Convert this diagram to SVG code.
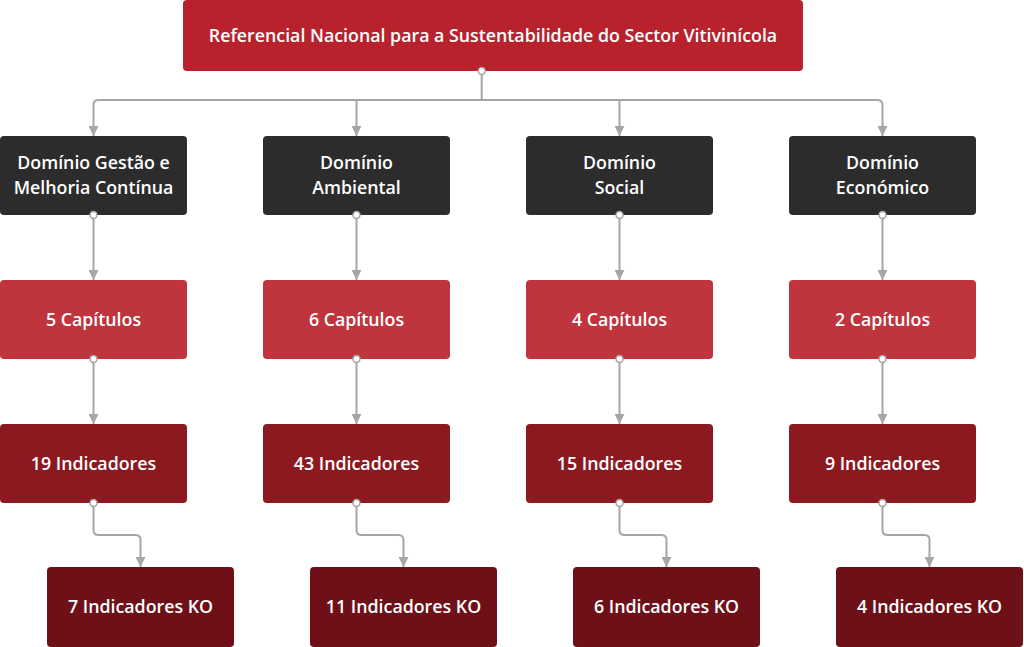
<svg xmlns="http://www.w3.org/2000/svg" width="1024" height="647" viewBox="0 0 1024 647">
<defs>
<marker id="arr" viewBox="0 0 10 10" refX="10" refY="5" markerWidth="10" markerHeight="10" markerUnits="userSpaceOnUse" orient="auto">
<path d="M0,0 L10,5 L0,10 Z" fill="#A6A6A6"/>
</marker>
<style>
.c{fill:none;stroke:#A6A6A6;stroke-width:2;marker-end:url(#arr)}
.o{fill:#fff;stroke:#A6A6A6;stroke-width:1.5}
.t{font-family:"Open Sans","Noto Sans",sans-serif;font-weight:600;font-size:17.8px;fill:#fff;text-anchor:middle;dominant-baseline:central}
.top{fill:#B9222C}
.d{fill:#2C2C2C}
.r2{fill:#C0343D}
.r3{fill:#8C1820}
.r4{fill:#6E1017}
</style>
</defs>
<g id="connectors">
<path class="c" d="M481.7,71 V100 H98 Q93.5,100 93.5,105 V136"/>
<path class="c" d="M356.5,100 V136"/>
<path class="c" d="M619.5,100 V136"/>
<path class="c" d="M481.7,100 H877.5 Q882.5,100 882.5,105 V136"/>
<path class="c" d="M93.5,215 V280"/>
<path class="c" d="M356.5,215 V280"/>
<path class="c" d="M619.5,215 V280"/>
<path class="c" d="M882.5,215 V280"/>
<path class="c" d="M93.5,359 V424"/>
<path class="c" d="M356.5,359 V424"/>
<path class="c" d="M619.5,359 V424"/>
<path class="c" d="M882.5,359 V424"/>
<path class="c" d="M93.5,503 V530 Q93.5,535 98.5,535 H135.5 Q140.5,535 140.5,540 V567"/>
<path class="c" d="M356.5,503 V530 Q356.5,535 361.5,535 H398.5 Q403.5,535 403.5,540 V567"/>
<path class="c" d="M619.5,503 V530 Q619.5,535 624.5,535 H661.5 Q666.5,535 666.5,540 V567"/>
<path class="c" d="M882.5,503 V530 Q882.5,535 887.5,535 H924.5 Q929.5,535 929.5,540 V567"/>
</g>
<g id="root"><rect class="top" x="183" y="0" width="620" height="71" rx="4"/><text class="t" x="493" y="34.5">Referencial Nacional para a Sustentabilidade do Sector Vitivinícola</text></g>
<g id="d1"><rect class="d" x="0" y="136" width="187" height="79" rx="4"/><text class="t" x="93.5" y="162">Domínio Gestão e</text><text class="t" x="93.5" y="186.5">Melhoria Contínua</text></g>
<g id="d2"><rect class="d" x="263" y="136" width="187" height="79" rx="4"/><text class="t" x="356.5" y="162">Domínio</text><text class="t" x="356.5" y="186.5">Ambiental</text></g>
<g id="d3"><rect class="d" x="526" y="136" width="187" height="79" rx="4"/><text class="t" x="619.5" y="162">Domínio</text><text class="t" x="619.5" y="186.5">Social</text></g>
<g id="d4"><rect class="d" x="789" y="136" width="187" height="79" rx="4"/><text class="t" x="882.5" y="162">Domínio</text><text class="t" x="882.5" y="186.5">Económico</text></g>
<g id="c1"><rect class="r2" x="0" y="280" width="187" height="79" rx="4"/><text class="t" x="93.5" y="318.5">5 Capítulos</text></g>
<g id="c2"><rect class="r2" x="263" y="280" width="187" height="79" rx="4"/><text class="t" x="356.5" y="318.5">6 Capítulos</text></g>
<g id="c3"><rect class="r2" x="526" y="280" width="187" height="79" rx="4"/><text class="t" x="619.5" y="318.5">4 Capítulos</text></g>
<g id="c4"><rect class="r2" x="789" y="280" width="187" height="79" rx="4"/><text class="t" x="882.5" y="318.5">2 Capítulos</text></g>
<g id="i1"><rect class="r3" x="0" y="424" width="187" height="79" rx="4"/><text class="t" x="93.5" y="462.5">19 Indicadores</text></g>
<g id="i2"><rect class="r3" x="263" y="424" width="187" height="79" rx="4"/><text class="t" x="356.5" y="462.5">43 Indicadores</text></g>
<g id="i3"><rect class="r3" x="526" y="424" width="187" height="79" rx="4"/><text class="t" x="619.5" y="462.5">15 Indicadores</text></g>
<g id="i4"><rect class="r3" x="789" y="424" width="187" height="79" rx="4"/><text class="t" x="882.5" y="462.5">9 Indicadores</text></g>
<g id="k1"><rect class="r4" x="47" y="567" width="187" height="80" rx="4"/><text class="t" x="140.5" y="606">7 Indicadores KO</text></g>
<g id="k2"><rect class="r4" x="310" y="567" width="187" height="80" rx="4"/><text class="t" x="403.5" y="606">11 Indicadores KO</text></g>
<g id="k3"><rect class="r4" x="573" y="567" width="187" height="80" rx="4"/><text class="t" x="666.5" y="606">6 Indicadores KO</text></g>
<g id="k4"><rect class="r4" x="836" y="567" width="187" height="80" rx="4"/><text class="t" x="929.5" y="606">4 Indicadores KO</text></g>
<g id="ports">
<circle class="o" cx="481.7" cy="71" r="3.5"/>
<circle class="o" cx="93.5" cy="215" r="3.5"/>
<circle class="o" cx="356.5" cy="215" r="3.5"/>
<circle class="o" cx="619.5" cy="215" r="3.5"/>
<circle class="o" cx="882.5" cy="215" r="3.5"/>
<circle class="o" cx="93.5" cy="359" r="3.5"/>
<circle class="o" cx="356.5" cy="359" r="3.5"/>
<circle class="o" cx="619.5" cy="359" r="3.5"/>
<circle class="o" cx="882.5" cy="359" r="3.5"/>
<circle class="o" cx="93.5" cy="503" r="3.5"/>
<circle class="o" cx="356.5" cy="503" r="3.5"/>
<circle class="o" cx="619.5" cy="503" r="3.5"/>
<circle class="o" cx="882.5" cy="503" r="3.5"/>
</g>
</svg>
